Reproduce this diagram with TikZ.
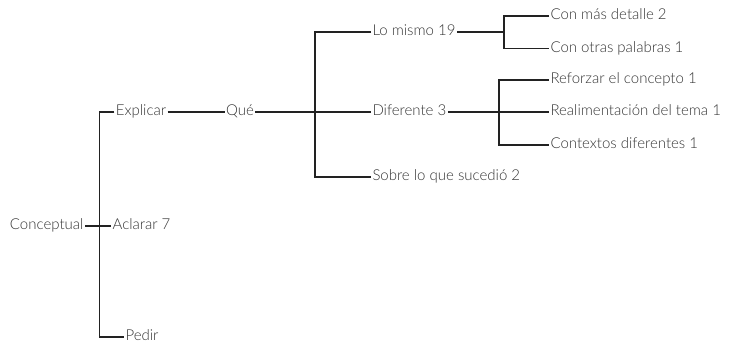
\documentclass[tikz,border=0pt]{standalone}
\usepackage{fontspec}
\setmainfont{Lato Light}
\definecolor{txt}{HTML}{333333}
\definecolor{ln}{HTML}{222222}
\begin{document}
\begin{tikzpicture}[x=1bp,y=-1bp,
  font=\fontsize{15bp}{18bp}\selectfont,
  lbl/.style={text=txt, inner sep=0pt, outer sep=1.5bp, text height=0.72em, text depth=0pt},
  conn/.style={draw=ln, line width=1.3bp}]
\useasboundingbox (0,0) rectangle (733,347);
% level 0
\node[lbl, anchor=east] (conc) at (85,226) {Conceptual};
% level 1
\node[lbl] (expl) at (141,112) {Explicar};
\node[lbl] (acl) at (141.5,226) {Aclarar 7};
\node[lbl] (ped) at (142,337) {Pedir};
% level 2
\node[lbl] (que) at (240,112) {Qué};
% level 3
\node[lbl, anchor=west] (lm) at (371,32) {Lo mismo 19};
\node[lbl, anchor=west] (dif) at (371,112) {Diferente 3};
\node[lbl, anchor=west] (sob) at (371,177) {Sobre lo que sucedió 2};
% level 4
\node[lbl, anchor=west] (cmd) at (549,16) {Con más detalle 2};
\node[lbl, anchor=west] (cop) at (549,48.5) {Con otras palabras 1};
\node[lbl, anchor=west] (ref) at (549,80) {Reforzar el concepto 1};
\node[lbl, anchor=west] (real) at (549,112) {Realimentación del tema 1};
\node[lbl, anchor=west] (ctx) at (549,145) {Contextos diferentes 1};
% trunk coordinates
\coordinate (tA) at (99.5,0);
\coordinate (tB) at (315,0);
\coordinate (tC) at (504,0);
\coordinate (tD) at (499,0);
% connectors
\draw[conn] (conc.east) -- (acl.west);
\draw[conn] (expl.west) -- (expl.west -| tA) -- (ped.west -| tA) -- (ped.west);
\draw[conn] (expl.east) -- (que.west);
\draw[conn] (que.east) -- (dif.west);
\draw[conn] (lm.west) -- (lm.west -| tB) -- (sob.west -| tB) -- (sob.west);
\draw[conn] (lm.east) -- (lm.east -| tC);
\draw[conn] (cmd.west) -- (cmd.west -| tC) -- (cop.west -| tC) -- (cop.west);
\draw[conn] (dif.east) -- (real.west);
\draw[conn] (ref.west) -- (ref.west -| tD) -- (ctx.west -| tD) -- (ctx.west);
\end{tikzpicture}
\end{document}
